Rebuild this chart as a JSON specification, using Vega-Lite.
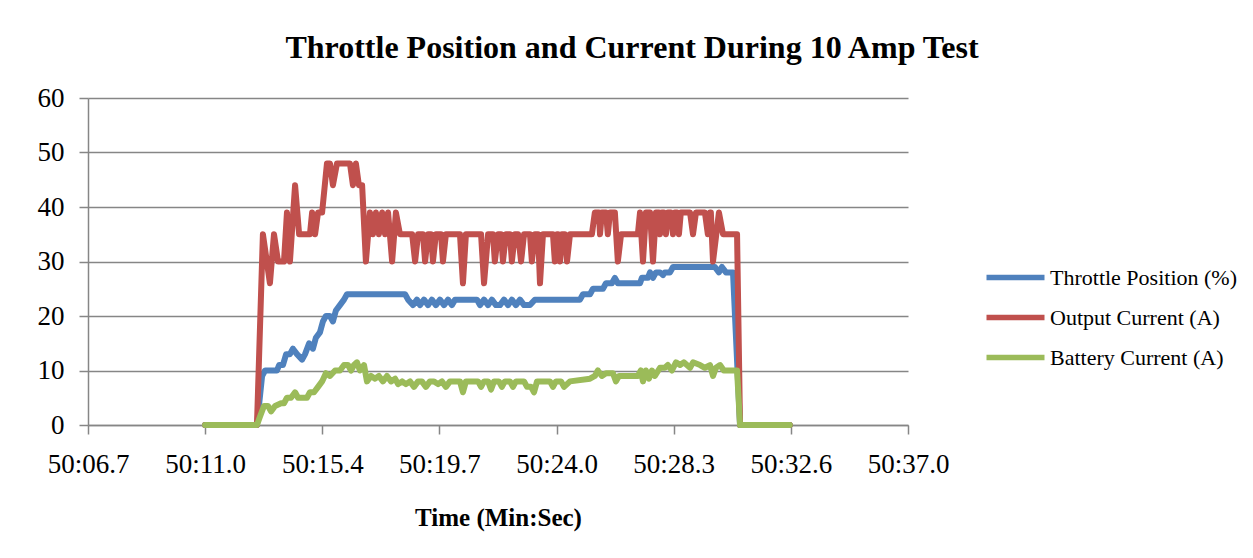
{
  "$schema": "https://vega.github.io/schema/vega-lite/v6.json",
  "width": 820,
  "height": 327,
  "autosize": "none",
  "padding": {"left": 88, "top": 98, "right": 345, "bottom": 133},
  "background": "white",
  "title": {"text": "Throttle Position and Current During 10 Amp Test", "font": "Liberation Serif", "fontSize": 32, "fontWeight": "bold", "color": "black", "anchor": "middle", "dx": 134, "offset": -6, "baseline": "alphabetic"},
  "datasets": {
    "throttle": [
      {"t": 11.03, "v": 0}, {"t": 12.95, "v": 0}, {"t": 13.14, "v": 9}, {"t": 13.25, "v": 10}, {"t": 13.69, "v": 10}, {"t": 13.77, "v": 11}, {"t": 13.91, "v": 11}, {"t": 14.03, "v": 13}, {"t": 14.17, "v": 13}, {"t": 14.28, "v": 14}, {"t": 14.43, "v": 13}, {"t": 14.62, "v": 12}, {"t": 14.73, "v": 13}, {"t": 14.88, "v": 15}, {"t": 15.02, "v": 14}, {"t": 15.13, "v": 16}, {"t": 15.28, "v": 17}, {"t": 15.39, "v": 19}, {"t": 15.5, "v": 20}, {"t": 15.65, "v": 20}, {"t": 15.76, "v": 19}, {"t": 15.87, "v": 21}, {"t": 16.02, "v": 22}, {"t": 16.17, "v": 23}, {"t": 16.28, "v": 24}, {"t": 18.43, "v": 24}, {"t": 18.54, "v": 23}, {"t": 18.72, "v": 22}, {"t": 18.87, "v": 23}, {"t": 18.98, "v": 22}, {"t": 19.13, "v": 23}, {"t": 19.28, "v": 22}, {"t": 19.42, "v": 23}, {"t": 19.57, "v": 22}, {"t": 19.72, "v": 23}, {"t": 19.87, "v": 22}, {"t": 20.02, "v": 23}, {"t": 20.16, "v": 22}, {"t": 20.28, "v": 23}, {"t": 21.09, "v": 23}, {"t": 21.2, "v": 22}, {"t": 21.35, "v": 23}, {"t": 21.5, "v": 22}, {"t": 21.64, "v": 23}, {"t": 21.79, "v": 22}, {"t": 21.94, "v": 22}, {"t": 22.09, "v": 23}, {"t": 22.24, "v": 22}, {"t": 22.38, "v": 23}, {"t": 22.53, "v": 22}, {"t": 22.68, "v": 23}, {"t": 22.83, "v": 22}, {"t": 23.05, "v": 22}, {"t": 23.23, "v": 23}, {"t": 24.9, "v": 23}, {"t": 25.01, "v": 24}, {"t": 25.27, "v": 24}, {"t": 25.38, "v": 25}, {"t": 25.75, "v": 25}, {"t": 25.86, "v": 26}, {"t": 26.08, "v": 26}, {"t": 26.19, "v": 27}, {"t": 26.3, "v": 26}, {"t": 27.12, "v": 26}, {"t": 27.19, "v": 27}, {"t": 27.41, "v": 27}, {"t": 27.49, "v": 28}, {"t": 27.6, "v": 27}, {"t": 27.71, "v": 28}, {"t": 27.86, "v": 28}, {"t": 27.97, "v": 27.5}, {"t": 28.04, "v": 28}, {"t": 28.23, "v": 28}, {"t": 28.34, "v": 29}, {"t": 29.89, "v": 29}, {"t": 30.04, "v": 28}, {"t": 30.15, "v": 29}, {"t": 30.3, "v": 28}, {"t": 30.56, "v": 28}, {"t": 30.82, "v": 0}, {"t": 32.66, "v": 0}
    ],
    "output": [
      {"t": 11.03, "v": 0}, {"t": 12.88, "v": 0}, {"t": 12.95, "v": 0}, {"t": 13.17, "v": 35}, {"t": 13.43, "v": 26}, {"t": 13.58, "v": 35}, {"t": 13.73, "v": 30}, {"t": 13.95, "v": 30}, {"t": 14.06, "v": 39}, {"t": 14.17, "v": 30}, {"t": 14.36, "v": 44}, {"t": 14.51, "v": 35}, {"t": 14.91, "v": 35}, {"t": 14.99, "v": 39}, {"t": 15.1, "v": 35}, {"t": 15.21, "v": 39}, {"t": 15.36, "v": 39}, {"t": 15.54, "v": 48}, {"t": 15.65, "v": 48}, {"t": 15.76, "v": 44}, {"t": 15.91, "v": 48}, {"t": 16.39, "v": 48}, {"t": 16.5, "v": 44}, {"t": 16.61, "v": 48}, {"t": 16.72, "v": 44}, {"t": 16.84, "v": 44}, {"t": 16.98, "v": 30}, {"t": 17.13, "v": 39}, {"t": 17.24, "v": 35}, {"t": 17.35, "v": 39}, {"t": 17.46, "v": 35}, {"t": 17.58, "v": 39}, {"t": 17.69, "v": 35}, {"t": 17.8, "v": 39}, {"t": 17.95, "v": 30}, {"t": 18.09, "v": 39}, {"t": 18.24, "v": 35}, {"t": 18.69, "v": 35}, {"t": 18.8, "v": 30}, {"t": 18.91, "v": 35}, {"t": 19.09, "v": 35}, {"t": 19.17, "v": 30}, {"t": 19.28, "v": 35}, {"t": 19.39, "v": 35}, {"t": 19.46, "v": 30}, {"t": 19.57, "v": 35}, {"t": 19.76, "v": 35}, {"t": 19.83, "v": 30}, {"t": 19.94, "v": 35}, {"t": 20.46, "v": 35}, {"t": 20.57, "v": 26}, {"t": 20.68, "v": 35}, {"t": 21.24, "v": 35}, {"t": 21.35, "v": 26}, {"t": 21.5, "v": 35}, {"t": 21.68, "v": 35}, {"t": 21.75, "v": 30}, {"t": 21.87, "v": 35}, {"t": 21.98, "v": 35}, {"t": 22.05, "v": 30}, {"t": 22.16, "v": 35}, {"t": 22.31, "v": 35}, {"t": 22.38, "v": 30}, {"t": 22.49, "v": 35}, {"t": 22.61, "v": 35}, {"t": 22.72, "v": 30}, {"t": 22.83, "v": 35}, {"t": 23.05, "v": 35}, {"t": 23.12, "v": 30}, {"t": 23.23, "v": 35}, {"t": 23.35, "v": 35}, {"t": 23.42, "v": 26}, {"t": 23.53, "v": 35}, {"t": 23.9, "v": 35}, {"t": 23.97, "v": 30}, {"t": 24.05, "v": 35}, {"t": 24.09, "v": 35}, {"t": 24.16, "v": 30}, {"t": 24.23, "v": 35}, {"t": 24.34, "v": 35}, {"t": 24.42, "v": 30}, {"t": 24.53, "v": 35}, {"t": 25.34, "v": 35}, {"t": 25.45, "v": 39}, {"t": 25.6, "v": 39}, {"t": 25.64, "v": 35}, {"t": 25.71, "v": 39}, {"t": 25.86, "v": 39}, {"t": 25.93, "v": 35}, {"t": 26.01, "v": 39}, {"t": 26.19, "v": 39}, {"t": 26.3, "v": 30}, {"t": 26.42, "v": 35}, {"t": 27.04, "v": 35}, {"t": 27.12, "v": 39}, {"t": 27.23, "v": 30}, {"t": 27.34, "v": 39}, {"t": 27.49, "v": 39}, {"t": 27.6, "v": 30}, {"t": 27.71, "v": 39}, {"t": 27.82, "v": 39}, {"t": 27.86, "v": 35}, {"t": 27.93, "v": 39}, {"t": 28.0, "v": 39}, {"t": 28.08, "v": 35}, {"t": 28.15, "v": 39}, {"t": 28.26, "v": 39}, {"t": 28.34, "v": 35}, {"t": 28.41, "v": 39}, {"t": 28.49, "v": 39}, {"t": 28.56, "v": 35}, {"t": 28.63, "v": 39}, {"t": 28.97, "v": 39}, {"t": 29.08, "v": 35}, {"t": 29.19, "v": 39}, {"t": 29.52, "v": 39}, {"t": 29.63, "v": 35}, {"t": 29.71, "v": 39}, {"t": 29.74, "v": 39}, {"t": 29.82, "v": 30}, {"t": 30.04, "v": 39}, {"t": 30.19, "v": 35}, {"t": 30.71, "v": 35}, {"t": 30.82, "v": 0}, {"t": 32.66, "v": 0}
    ],
    "battery": [
      {"t": 11.03, "v": 0}, {"t": 12.95, "v": 0}, {"t": 13.06, "v": 1.5}, {"t": 13.21, "v": 3.5}, {"t": 13.36, "v": 3.5}, {"t": 13.47, "v": 2.5}, {"t": 13.62, "v": 3.5}, {"t": 13.84, "v": 4}, {"t": 13.95, "v": 4}, {"t": 14.06, "v": 5}, {"t": 14.21, "v": 5}, {"t": 14.36, "v": 6}, {"t": 14.47, "v": 5}, {"t": 14.8, "v": 5}, {"t": 14.91, "v": 6}, {"t": 15.06, "v": 6}, {"t": 15.21, "v": 7}, {"t": 15.36, "v": 8}, {"t": 15.5, "v": 9.5}, {"t": 15.65, "v": 9}, {"t": 15.84, "v": 10}, {"t": 16.02, "v": 10}, {"t": 16.17, "v": 11}, {"t": 16.32, "v": 11}, {"t": 16.43, "v": 10}, {"t": 16.54, "v": 11}, {"t": 16.65, "v": 11.5}, {"t": 16.76, "v": 10}, {"t": 16.91, "v": 11}, {"t": 17.02, "v": 8}, {"t": 17.17, "v": 9}, {"t": 17.32, "v": 8.5}, {"t": 17.46, "v": 9}, {"t": 17.61, "v": 8}, {"t": 17.76, "v": 9}, {"t": 17.91, "v": 8}, {"t": 18.06, "v": 8.5}, {"t": 18.17, "v": 7.5}, {"t": 18.32, "v": 8}, {"t": 18.46, "v": 7.5}, {"t": 18.61, "v": 8}, {"t": 18.76, "v": 7}, {"t": 18.91, "v": 8}, {"t": 19.05, "v": 8}, {"t": 19.2, "v": 7}, {"t": 19.35, "v": 8}, {"t": 19.5, "v": 8}, {"t": 19.65, "v": 7.5}, {"t": 19.79, "v": 8}, {"t": 19.94, "v": 7}, {"t": 20.09, "v": 8}, {"t": 20.46, "v": 8}, {"t": 20.57, "v": 6}, {"t": 20.68, "v": 8}, {"t": 21.13, "v": 8}, {"t": 21.24, "v": 7}, {"t": 21.35, "v": 8}, {"t": 21.5, "v": 8}, {"t": 21.61, "v": 6.5}, {"t": 21.72, "v": 8}, {"t": 21.9, "v": 8}, {"t": 22.01, "v": 7}, {"t": 22.12, "v": 8}, {"t": 22.31, "v": 8}, {"t": 22.42, "v": 7}, {"t": 22.53, "v": 8}, {"t": 22.83, "v": 8}, {"t": 22.94, "v": 7}, {"t": 23.09, "v": 7}, {"t": 23.2, "v": 6}, {"t": 23.31, "v": 8}, {"t": 23.79, "v": 8}, {"t": 23.9, "v": 7}, {"t": 24.01, "v": 8}, {"t": 24.2, "v": 8}, {"t": 24.31, "v": 7}, {"t": 24.42, "v": 7.5}, {"t": 24.53, "v": 8}, {"t": 25.27, "v": 8.5}, {"t": 25.45, "v": 9}, {"t": 25.56, "v": 10}, {"t": 25.71, "v": 9}, {"t": 25.86, "v": 9.5}, {"t": 26.12, "v": 9.5}, {"t": 26.23, "v": 8}, {"t": 26.34, "v": 9}, {"t": 27.04, "v": 9}, {"t": 27.15, "v": 10}, {"t": 27.23, "v": 8}, {"t": 27.34, "v": 10}, {"t": 27.45, "v": 8.5}, {"t": 27.56, "v": 10}, {"t": 27.67, "v": 9}, {"t": 27.86, "v": 10.5}, {"t": 28.04, "v": 10.5}, {"t": 28.15, "v": 11}, {"t": 28.3, "v": 10}, {"t": 28.45, "v": 11.5}, {"t": 28.6, "v": 11}, {"t": 28.74, "v": 11.5}, {"t": 28.97, "v": 10.5}, {"t": 29.08, "v": 11.5}, {"t": 29.34, "v": 11}, {"t": 29.52, "v": 10.5}, {"t": 29.71, "v": 11}, {"t": 29.82, "v": 9}, {"t": 29.93, "v": 10.5}, {"t": 30.08, "v": 11}, {"t": 30.22, "v": 10}, {"t": 30.71, "v": 10}, {"t": 30.82, "v": 0}, {"t": 32.66, "v": 0}
    ]
  },
  "encoding": {
    "x": {
      "field": "t", "type": "quantitative",
      "scale": {"domain": [6.7, 37.0333], "nice": false, "zero": false},
      "axis": {
        "values": [6.7, 11.0333, 15.3667, 19.7, 24.0333, 28.3667, 32.7, 37.0333],
        "labelExpr": "['50:06.7','50:11.0','50:15.4','50:19.7','50:24.0','50:28.3','50:32.6','50:37.0'][round((datum.value-6.7)/4.33333)]",
        "title": "Time (Min:Sec)",
        "grid": false,
        "labelFlush": false,
        "labelOverlap": false,
        "labelPadding": 17,
        "titlePadding": 28
      }
    },
    "y": {
      "field": "v", "type": "quantitative",
      "scale": {"domain": [0, 60], "nice": false},
      "axis": {
        "values": [0, 10, 20, 30, 40, 50, 60],
        "title": null,
        "grid": true,
        "labelPadding": 15
      }
    }
  },
  "layer": [
    {
      "data": {"name": "throttle"},
      "mark": {"type": "line", "strokeWidth": 6, "strokeJoin": "round", "strokeCap": "round"},
      "encoding": {"color": {"datum": "Throttle Position (%)", "type": "nominal"}}
    },
    {
      "data": {"name": "output"},
      "mark": {"type": "line", "strokeWidth": 6, "strokeJoin": "round", "strokeCap": "round"},
      "encoding": {"color": {"datum": "Output Current (A)", "type": "nominal"}}
    },
    {
      "data": {"name": "battery"},
      "mark": {"type": "line", "strokeWidth": 6, "strokeJoin": "round", "strokeCap": "round"},
      "encoding": {
        "color": {
          "datum": "Battery Current (A)", "type": "nominal",
          "scale": {"domain": ["Throttle Position (%)", "Output Current (A)", "Battery Current (A)"], "range": ["#4F81BD", "#C0504D", "#9BBB59"]},
          "legend": {
            "title": null, "orient": "none", "legendX": 910, "legendY": 162,
            "symbolType": "M-2,0H2", "symbolSize": 841, "symbolStrokeWidth": 5.5,
            "labelFont": "Liberation Serif", "labelFontSize": 22, "labelColor": "black",
            "labelOffset": 17, "rowPadding": 11, "labelLimit": 400
          }
        }
      }
    }
  ],
  "config": {
    "view": {"stroke": null},
    "axis": {
      "labelFont": "Liberation Serif", "labelFontSize": 27, "labelColor": "black",
      "titleFont": "Liberation Serif", "titleFontSize": 25, "titleFontWeight": "bold", "titleColor": "black",
      "domainColor": "#868686", "domainWidth": 1.5,
      "tickColor": "#868686", "tickWidth": 1.5, "tickSize": 9,
      "gridColor": "#868686", "gridWidth": 1.5
    }
  }
}
